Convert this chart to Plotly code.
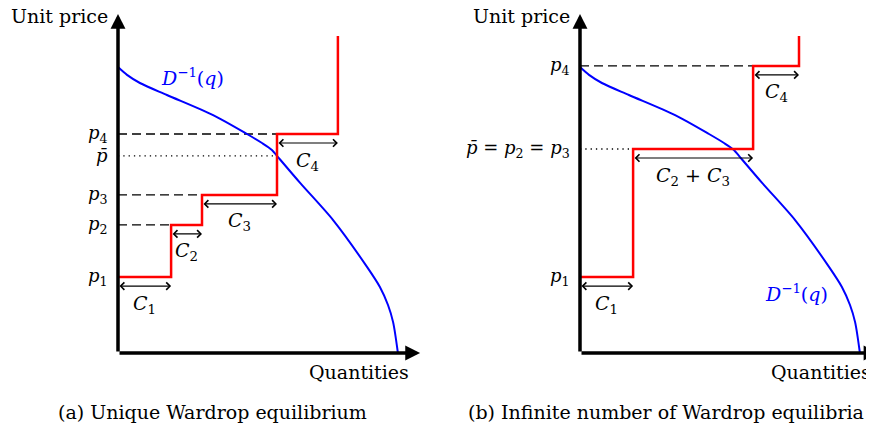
"""
Wardrop equilibrium sketch: stepwise supply vs inverse demand curve.
Two panels, (a) unique equilibrium and (b) infinite number of equilibria.
"""

import plotly.graph_objects as go

# units: 1 unit = 30 px on both axes
# inverse demand curve D^-1(q), same curve in both panels
demand_q = [0, 0.3, 0.73, 1.63, 3.17, 4.3, 4.8, 5.13, 5.3, 6.07, 7.17, 8.3, 8.73, 9.0, 9.17, 9.33]
demand_p = [9.53, 9.27, 9.0, 8.6, 7.93, 7.3, 7.0, 6.77, 6.57, 5.67, 4.43, 2.87, 2.2, 1.6, 1.03, 0]

# panel (a)
a_prices = [2.53, 4.27, 5.27, 7.3]
a_caps = [1.77, 1.03, 2.5, 2.03]
a_price_labels = ['<i>p</i><sub>1</sub>', '<i>p</i><sub>2</sub>', '<i>p</i><sub>3</sub>', '<i>p</i><sub>4</sub>']
a_cap_labels = ['<i>C</i><sub>1</sub>', '<i>C</i><sub>2</sub>', '<i>C</i><sub>3</sub>', '<i>C</i><sub>4</sub>']
a_pbar = 6.57
a_pbar_q = 5.3

# panel (b)
b_prices = [2.53, 6.8, 9.57]
b_caps = [1.77, 4.0, 1.53]
b_price_labels = ['<i>p</i><sub>1</sub>', '<i>p̄</i> = <i>p</i><sub>2</sub> = <i>p</i><sub>3</sub>', '<i>p</i><sub>4</sub>']
b_cap_labels = ['<i>C</i><sub>1</sub>', '<i>C</i><sub>2</sub> + <i>C</i><sub>3</sub>', '<i>C</i><sub>4</sub>']
b_pbar = 6.8
b_pbar_q = 5.17

price_top = 10.57
y_axis_top = 11.3

FONT = 'DejaVu Serif'
BLACK = '#000000'
SIZE = 19
LABEL_SIZE = 18

# page body has an 8px margin, so the figure is drawn 8px smaller
W, H = 866, 435


def step_path(prices, caps, top):
    """Build the supply step line from prices and capacities."""
    xs, ys = [0], [prices[0]]
    q = 0
    for i, (p, c) in enumerate(zip(prices, caps)):
        if i > 0:
            xs.append(q)
            ys.append(p)
        q += c
        xs.append(q)
        ys.append(p)
    xs.append(q)
    ys.append(top)
    return xs, ys


def add_panel(fig, xr, yr, prices, caps, price_labels, cap_labels, pbar, pbar_q,
              dotted_label, x_tip, demand_label_pos):
    # dashed lines from the y axis to the start of each step
    starts = [sum(caps[:i]) for i in range(len(caps))]
    for p, s in zip(prices[1:], starts[1:]):
        if abs(p - pbar) < 1e-6:
            continue
        fig.add_trace(go.Scatter(x=[0, s], y=[p, p], mode='lines', xaxis=xr, yaxis=yr,
                                 line=dict(color=BLACK, width=1.3, dash='9px,5px'),
                                 hoverinfo='skip'))
    # dotted equilibrium price
    fig.add_trace(go.Scatter(x=[0, pbar_q], y=[pbar, pbar], mode='lines', xaxis=xr, yaxis=yr,
                             line=dict(color=BLACK, width=1.3, dash='1.3px,4px'),
                             hoverinfo='skip'))

    # demand curve
    fig.add_trace(go.Scatter(x=demand_q, y=demand_p, mode='lines', xaxis=xr, yaxis=yr,
                             line=dict(color='#0000ff', width=2, shape='spline', smoothing=0.8),
                             hoverinfo='skip'))

    # supply steps
    sx, sy = step_path(prices, caps, price_top)
    fig.add_trace(go.Scatter(x=sx, y=sy, mode='lines', xaxis=xr, yaxis=yr,
                             line=dict(color='#ff0000', width=2.5),
                             hoverinfo='skip'))

    # axes with arrow heads
    for tip, tail in [((x_tip, 0), (0, 0)), ((0, y_axis_top), (0, 0))]:
        fig.add_annotation(x=tip[0], y=tip[1], ax=tail[0], ay=tail[1],
                           xref=xr, yref=yr, axref=xr, ayref=yr, text='',
                           showarrow=True, arrowhead=2, arrowwidth=3.5, arrowsize=0.85,
                           arrowcolor=BLACK, standoff=0)

    # capacity double arrows and labels
    for p, s, c, lab in zip(prices, starts, caps, cap_labels):
        fig.add_annotation(x=s + c, y=p - 0.3, ax=s, ay=p - 0.3,
                           xref=xr, yref=yr, axref=xr, ayref=yr, text='',
                           showarrow=True, arrowside='end+start',
                           arrowhead=4, startarrowhead=4, arrowsize=1.2, startarrowsize=1.2,
                           arrowwidth=1.2, arrowcolor=BLACK, standoff=0, startstandoff=0)
        fig.add_annotation(x=s + c / 2, y=p - 0.9, xref=xr, yref=yr, text=lab,
                           xanchor='center', showarrow=False,
                           font=dict(family=FONT, size=SIZE, color=BLACK))

    # price labels on the y axis
    for p, lab in zip(prices, price_labels):
        fig.add_annotation(x=0, y=p, xref=xr, yref=yr, text=lab, xanchor='right',
                           xshift=-8, showarrow=False,
                           font=dict(family=FONT, size=LABEL_SIZE, color=BLACK))
    if dotted_label:
        fig.add_annotation(x=0, y=pbar, xref=xr, yref=yr, text='<i>p̄</i>', xanchor='right',
                           xshift=-8, showarrow=False,
                           font=dict(family=FONT, size=LABEL_SIZE, color=BLACK))

    # axis titles
    fig.add_annotation(x=0, y=y_axis_top - 0.05, xref=xr, yref=yr, text='Unit price',
                       xanchor='right', xshift=-8, showarrow=False,
                       font=dict(family=FONT, size=SIZE, color=BLACK))
    fig.add_annotation(x=9.75, y=-0.2, xref=xr, yref=yr, text='Quantities',
                       xanchor='right', yanchor='top', showarrow=False,
                       font=dict(family=FONT, size=SIZE, color=BLACK))

    # demand curve label
    fig.add_annotation(x=demand_label_pos[0], y=demand_label_pos[1], xref=xr, yref=yr,
                       text='<i>D</i><sup>−1</sup>(<i>q</i>)', xanchor='left',
                       showarrow=False, font=dict(family=FONT, size=SIZE, color='#0000ff'))


fig = go.Figure()

add_panel(fig, 'x', 'y', a_prices, a_caps, a_price_labels, a_cap_labels,
          a_pbar, a_pbar_q, True, 10.07, (1.35, 9.2))
add_panel(fig, 'x2', 'y2', b_prices, b_caps, b_price_labels, b_cap_labels,
          b_pbar, b_pbar_q, False, 9.95, (6.1, 2.0))

fig.add_annotation(x=204 / W, y=18 / H, xref='paper', yref='paper', xanchor='center',
                   text='(a) Unique Wardrop equilibrium', showarrow=False,
                   font=dict(family=FONT, size=SIZE, color=BLACK))
fig.add_annotation(x=658 / W, y=18 / H, xref='paper', yref='paper', xanchor='center',
                   text='(b) Infinite number of Wardrop equilibria', showarrow=False,
                   font=dict(family=FONT, size=SIZE, color=BLACK))

# origin of panel (a) at 110 px, panel (b) at 572 px, x axis at 345 px (figure pixels)
fig.update_layout(
    width=W,
    height=H,
    margin=dict(l=0, r=0, t=0, b=0),
    showlegend=False,
    plot_bgcolor='white',
    paper_bgcolor='white',
    xaxis=dict(domain=[0, 0.5], range=[-110 / 30, (W / 2 - 110) / 30], visible=False),
    yaxis=dict(domain=[0, 1], range=[-(H - 345) / 30, 345 / 30], visible=False),
    xaxis2=dict(domain=[0.5, 1], range=[-(572 - W / 2) / 30, (W - 572) / 30],
                visible=False, anchor='y2'),
    yaxis2=dict(domain=[0, 1], range=[-(H - 345) / 30, 345 / 30], visible=False, anchor='x2'),
)

fig.write_html("out.html")
